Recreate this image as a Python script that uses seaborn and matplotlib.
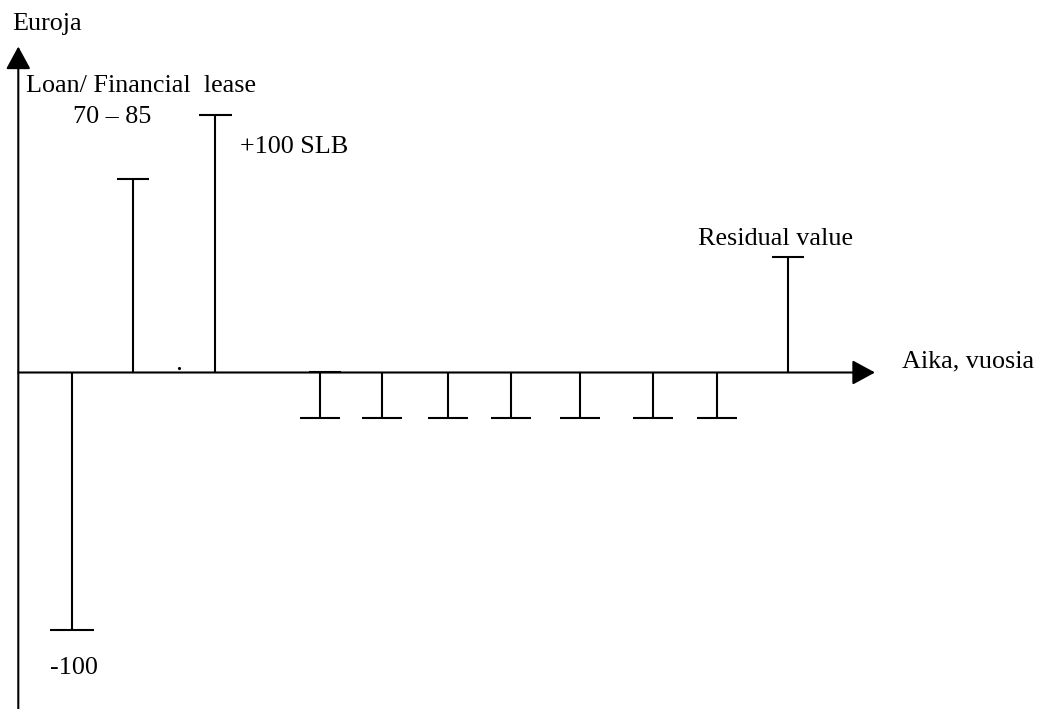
import matplotlib
matplotlib.use("Agg")
import matplotlib.pyplot as plt
import seaborn as sns
import pandas as pd

# Cash flows (x = position along time axis, y = euros)
flow_x = [72, 132.5, 215, 320, 382, 448, 511, 580, 653, 717, 788]
flow_y = [-100, 75, 100, -17.5, -17.5, -17.5, -17.5, -17.5, -17.5, -17.5, 45]
flow_kind = ["investment", "loan", "slb", "payment", "payment", "payment",
             "payment", "payment", "payment", "payment", "residual"]

# labels
label_texts = ["Euroja", "Loan/ Financial  lease", "70 \u2013 85", "+100 SLB",
               "Residual value", "Aika, vuosia", "-100"]

# --- styling / layout ---
W, H = 1041, 709
PX_PER_EUR = 2.575
AXIS_PY = 372.5  # pixel row of the time axis


def val(py):
    # pixel row -> euro value
    return (AXIS_PY - py) / PX_PER_EUR


cap_w = {"investment": 44, "loan": 32, "slb": 33, "payment": 40, "residual": 32}
LW = 1.5

sns.set_style("white")
plt.rcParams["font.family"] = ["Liberation Serif", "DejaVu Serif"]

df = pd.DataFrame({"x": flow_x, "y": flow_y, "kind": flow_kind})
df["w"] = df["kind"].map(cap_w)

fig = plt.figure(figsize=(W / 100, H / 100), dpi=100)
ax = fig.add_axes([0, 0, 1, 1])
ax.set_xlim(0, W)
ax.set_ylim(val(H), val(0))
ax.axis("off")

# stems and caps
ax.vlines(df["x"], 0, df["y"], color="black", lw=LW)
ax.hlines(df["y"], df["x"] - df["w"] / 2, df["x"] + df["w"] / 2, color="black", lw=LW)
# little cap on top of the first payment (sits on the axis)
first_pay = df[df["kind"] == "payment"].iloc[0]
ax.hlines(0.3, first_pay["x"] - 11, first_pay["x"] + 21, color="black", lw=LW)
# stray dot
ax.plot([179], [val(368)], marker=".", ms=2.5, color="black")

# axes with arrows
arrow = dict(arrowstyle="-|>,head_length=0.7,head_width=0.38", color="black",
             lw=LW, mutation_scale=20, shrinkA=0, shrinkB=0)
ax.annotate("", xy=(18.3, val(46.5)), xytext=(18.3, val(H + 5)), arrowprops=arrow)
ax.annotate("", xy=(875, 0), xytext=(18.3, 0), arrowprops=arrow)

# text labels (pixel positions: left x, baseline y)
label_pos = [(12.5, 30), (26, 92), (73, 123), (240, 153), (698, 245),
             (901.5, 367), (50, 674)]
for txt, (px, py) in zip(label_texts, label_pos):
    fig.text(px / W, 1 - py / H, txt, fontsize=18.8, ha="left", va="baseline",
             color="black")

fig.savefig("out.png", dpi=100)
